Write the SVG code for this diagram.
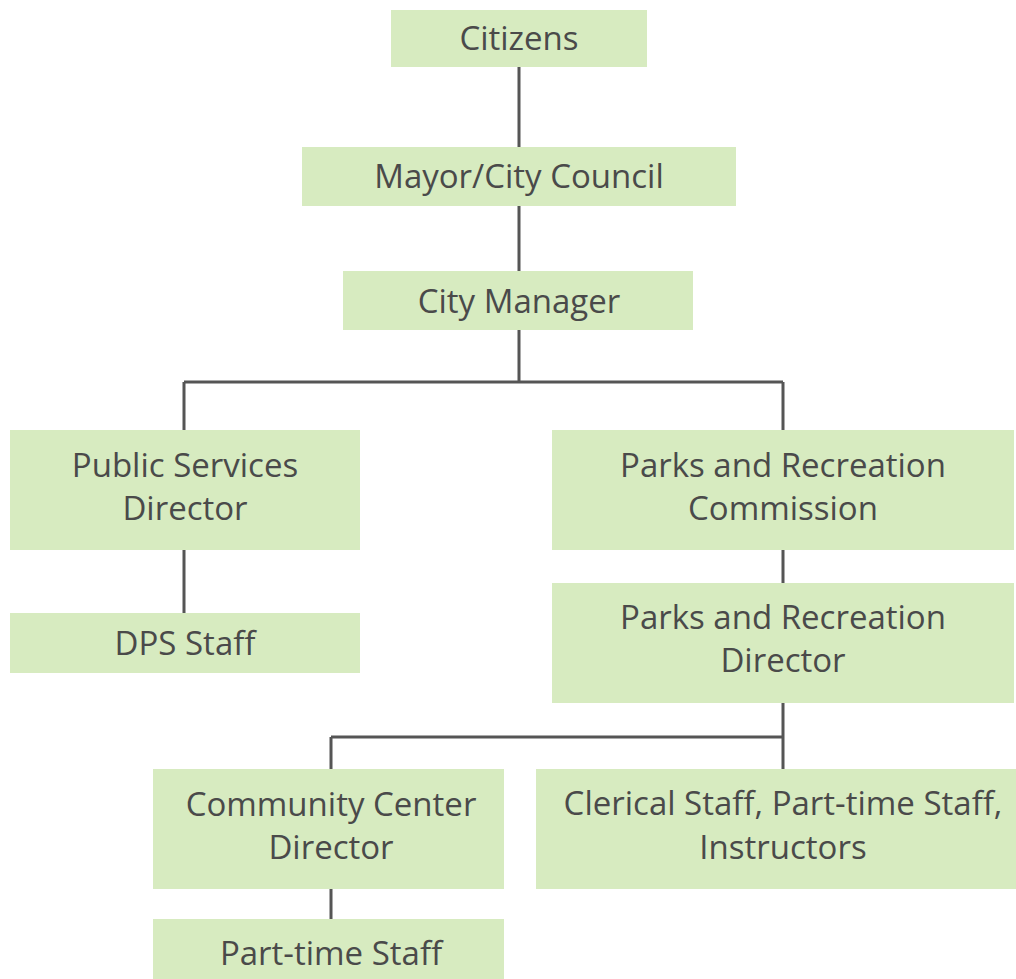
<svg xmlns="http://www.w3.org/2000/svg" width="1016" height="979" viewBox="0 0 1016 979">
<style>
.box{fill:#D7EBC0;}
.t{font-family:"Open Sans","Noto Sans",sans-serif;font-size:33px;fill:#4A4A4A;text-anchor:middle;}
.c{fill:none;stroke:#555555;stroke-width:3;}
</style>
<rect width="1016" height="979" fill="#FFFFFF"/>
<g id="connectors">
<path class="c" d="M519 67V147M519 206V271M519 330V382M184 382H783M184 382V430M783 382V430M184 550V613M783 550V583M783 703V769M331 737H783M331 737V769M331 889V919"/>
</g>
<g id="citizens"><rect class="box" x="391" y="10" width="256" height="57"/><text class="t" x="519" y="50">Citizens</text></g>
<g id="mayor"><rect class="box" x="302" y="147" width="434" height="59"/><text class="t" x="519" y="188">Mayor/City Council</text></g>
<g id="manager"><rect class="box" x="343" y="271" width="350" height="59"/><text class="t" x="519" y="313">City Manager</text></g>
<g id="psd"><rect class="box" x="10" y="430" width="350" height="120"/><text class="t" x="185" y="477">Public Services</text><text class="t" x="185" y="520">Director</text></g>
<g id="dps"><rect class="box" x="10" y="613" width="350" height="60"/><text class="t" x="185" y="655">DPS Staff</text></g>
<g id="prc"><rect class="box" x="552" y="430" width="462" height="120"/><text class="t" x="783" y="477">Parks and Recreation</text><text class="t" x="783" y="520">Commission</text></g>
<g id="prd"><rect class="box" x="552" y="583" width="462" height="120"/><text class="t" x="783" y="629">Parks and Recreation</text><text class="t" x="783" y="672">Director</text></g>
<g id="ccd"><rect class="box" x="153" y="769" width="351" height="120"/><text class="t" x="331" y="816">Community Center</text><text class="t" x="331" y="859">Director</text></g>
<g id="pts"><rect class="box" x="153" y="919" width="351" height="60"/><text class="t" x="331" y="965">Part-time Staff</text></g>
<g id="clerical"><rect class="box" x="536" y="769" width="480" height="120"/><text class="t" x="783" y="815">Clerical Staff, Part-time Staff,</text><text class="t" x="783" y="859">Instructors</text></g>
</svg>
